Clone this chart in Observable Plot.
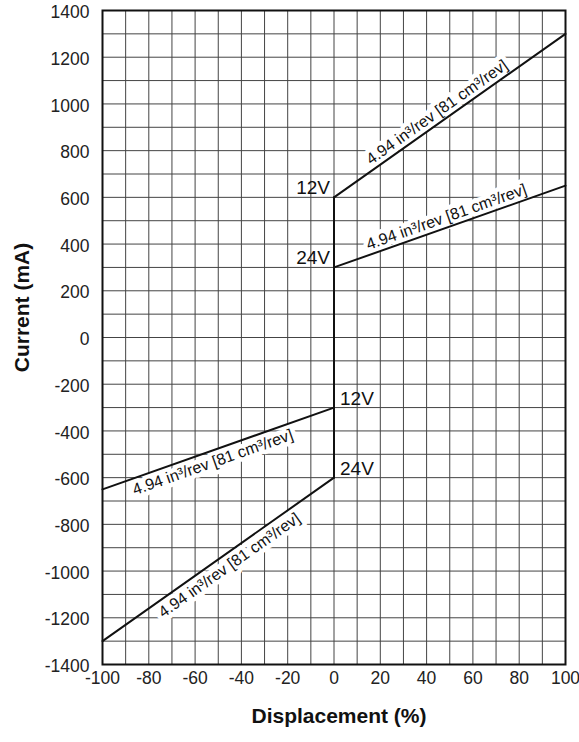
<!DOCTYPE html>
<html><head><meta charset="utf-8">
<script src="https://cdn.jsdelivr.net/npm/d3@7"></script>
<script src="https://cdn.jsdelivr.net/npm/@observablehq/plot@0.6"></script>
<style>body{margin:0;background:#fff;}</style>
</head><body><div id="chart"></div>
<script>
// Tick labels
const xTicks = [-100, -80, -60, -40, -20, 0, 20, 40, 60, 80, 100];
const yTicks = [-1400, -1200, -1000, -800, -600, -400, -200, 0, 200, 400, 600, 800, 1000, 1200, 1400];
// Grid lines
const xGrid = [-90, -80, -70, -60, -50, -40, -30, -20, -10, 0, 10, 20, 30, 40, 50, 60, 70, 80, 90];
const yGrid = [-1300, -1200, -1100, -1000, -900, -800, -700, -600, -500, -400, -300, -200, -100, 0, 100, 200, 300, 400, 500, 600, 700, 800, 900, 1000, 1100, 1200, 1300];
// Series: straight segments (start/end)
const seriesNames = ["12V +", "24V +", "12V -", "24V -"];
const startX = [0, 0, -100, -100];
const startY = [600, 300, -650, -1300];
const endX = [100, 100, 0, 0];
const endY = [1300, 650, -300, -600];
// vertical switching segment at 0 %
const verticalX = [0, 0];
const verticalY = [-600, 600];
// Voltage labels
const voltageText = ["12V", "24V", "12V", "24V"];
const voltageX = [0, 0, 0, 0];
const voltageY = [600, 300, -300, -600];
// Rate labels along lines
const rateText = "4.94 in³/rev [81 cm³/rev]";
const rateX = [47, 50, -54, -48];
// Axis titles
const xTitle = "Displacement (%)";
const yTitle = "Current (mA)";

const W = 579, H = 742;
const mL = 102, mR = 14, mT = 10, mB = 78;
const pw = W - mL - mR, ph = H - mT - mB;
const xDom = [-100, 100], yDom = [-1400, 1400];
const font = "'Liberation Sans', Arial, Helvetica, sans-serif";

const lineData = seriesNames.flatMap((s, i) => [
  {s, x: startX[i], y: startY[i]},
  {s, x: endX[i], y: endY[i]}
]);
const vertData = verticalX.map((x, i) => ({x, y: verticalY[i]}));

const labelMarks = seriesNames.map((s, i) => {
  const t = (rateX[i] - startX[i]) / (endX[i] - startX[i]);
  const y = startY[i] + t * (endY[i] - startY[i]);
  const dxp = (endX[i] - startX[i]) / (xDom[1] - xDom[0]) * pw;
  const dyp = (endY[i] - startY[i]) / (yDom[1] - yDom[0]) * ph;
  const ang = Math.atan2(dyp, dxp);
  const above = startY[i] > 0;
  const gap = 5;
  const dx = above ? -gap * Math.sin(ang) : gap * Math.sin(ang);
  const dy = above ? -gap * Math.cos(ang) : gap * Math.cos(ang);
  return Plot.text([{x: rateX[i], y}], {
    x: "x", y: "y", text: () => rateText,
    rotate: -ang * 180 / Math.PI,
    lineAnchor: above ? "bottom" : "top",
    textAnchor: "middle",
    dx, dy,
    fontSize: 16, fill: "#111",
    stroke: "white", strokeWidth: 9, strokeLinejoin: "round", paintOrder: "stroke"
  });
});

const voltData = voltageText.map((t, i) => ({t, x: voltageX[i], y: voltageY[i], up: voltageY[i] > 0}));

const chart = Plot.plot({
  width: W, height: H,
  marginLeft: mL, marginRight: mR, marginTop: mT, marginBottom: mB,
  style: {fontFamily: font, fontSize: "18px", color: "#222", background: "white"},
  x: {domain: xDom, axis: null},
  y: {domain: yDom, axis: null},
  marks: [
    Plot.ruleX(xGrid, {stroke: "#444", strokeWidth: 1, strokeOpacity: 1}),
    Plot.ruleY(yGrid, {stroke: "#444", strokeWidth: 1, strokeOpacity: 1}),
    ...labelMarks,
    Plot.frame({stroke: "#111", strokeWidth: 2}),
    Plot.line(lineData, {x: "x", y: "y", z: "s", stroke: "#111", strokeWidth: 2}),
    Plot.line(vertData, {x: "x", y: "y", stroke: "#111", strokeWidth: 2}),
    // tick labels
    Plot.text(xTicks, {x: d => d, frameAnchor: "bottom", text: d => String(d), textAnchor: "middle", lineAnchor: "top", dy: 7, fontSize: 17.5, fill: "#222"}),
    Plot.text(yTicks, {y: d => d, frameAnchor: "left", text: d => String(d), textAnchor: "end", lineAnchor: "middle", dx: -13, dy: 2, fontSize: 17.5, fill: "#222"}),
    // voltage labels
    Plot.text(voltData.filter(d => d.up), {x: "x", y: "y", text: "t", textAnchor: "end", lineAnchor: "bottom", dx: -4, dy: -3, fontSize: 19, fill: "#111"}),
    Plot.text(voltData.filter(d => !d.up), {x: "x", y: "y", text: "t", textAnchor: "start", lineAnchor: "bottom", dx: 6, dy: -3, fontSize: 19, fill: "#111"}),
    // axis titles
    Plot.text([xTitle], {frameAnchor: "bottom", text: d => d, textAnchor: "middle", lineAnchor: "middle", dx: 5, dy: 52, fontSize: 21, fontWeight: "bold", fill: "#111"}),
    Plot.text([yTitle], {frameAnchor: "left", text: d => d, rotate: -90, textAnchor: "middle", lineAnchor: "middle", dx: -80, dy: -30, fontSize: 21, fontWeight: "bold", fill: "#111"})
  ]
});
document.getElementById("chart").appendChild(chart);
</script>
</body></html>
